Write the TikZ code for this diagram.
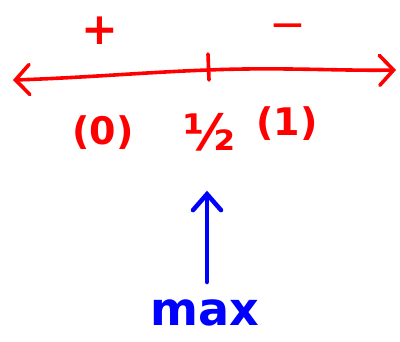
\documentclass[tikz,border=0pt]{standalone}
\usepackage{fontspec}
\setmainfont{DejaVu Sans}
\usetikzlibrary{arrows.meta}
\definecolor{pen}{RGB}{255,0,0}
\definecolor{ink}{RGB}{0,0,255}
\begin{document}
\begin{tikzpicture}[x=1pt,y=-1pt,
  redtxt/.style={text=pen,inner sep=0pt,font=\fontsize{38}{40}\selectfont\bfseries},
  redline/.style={draw=pen,line width=3.6pt,line cap=round,line join=round},
  bluetxt/.style={text=ink,inner sep=0pt,font=\fontsize{46}{48}\selectfont\bfseries},
  blueline/.style={draw=ink,line width=4.5pt,line cap=round,line join=round}]
\useasboundingbox (0,0) rectangle (400,341);
\coordinate (L) at (13,80);
\coordinate (M) at (208,70);
\coordinate (R) at (396,70);
\draw[redline,{Straight Barb[length=14pt,width=30pt,line cap=round]}-{Straight Barb[length=14pt,width=30pt,line cap=round]}]
  (L) .. controls (80,78) and (150,72) .. (M) .. controls (280,67) and (340,71) .. (R);
\coordinate (t1) at (208,54);
\coordinate (t2) at (209,80);
\draw[redline] (t1) -- (t2);
\node[redtxt,font=\fontsize{44}{46}\selectfont\bfseries] (plus) at (100,31) {+};
\node[redtxt,font=\fontsize{44}{46}\selectfont] (minus) at (288,32) {−};
\node[redtxt] (zero) at (103,133) {(0)};
\node[redtxt,font=\fontsize{50}{52}\selectfont\bfseries] (half) at (209,132) {½};
\node[redtxt] (one) at (287,124) {(1)};
\coordinate (b1) at (207,282);
\node[inner sep=0pt] (b2) at (207,190) {};
\draw[blueline,-{Straight Barb[length=16pt,width=28pt,line cap=round]}] (b1) -- (b2);
\node[bluetxt] (max) at (205,313) {max};
\end{tikzpicture}
\end{document}
